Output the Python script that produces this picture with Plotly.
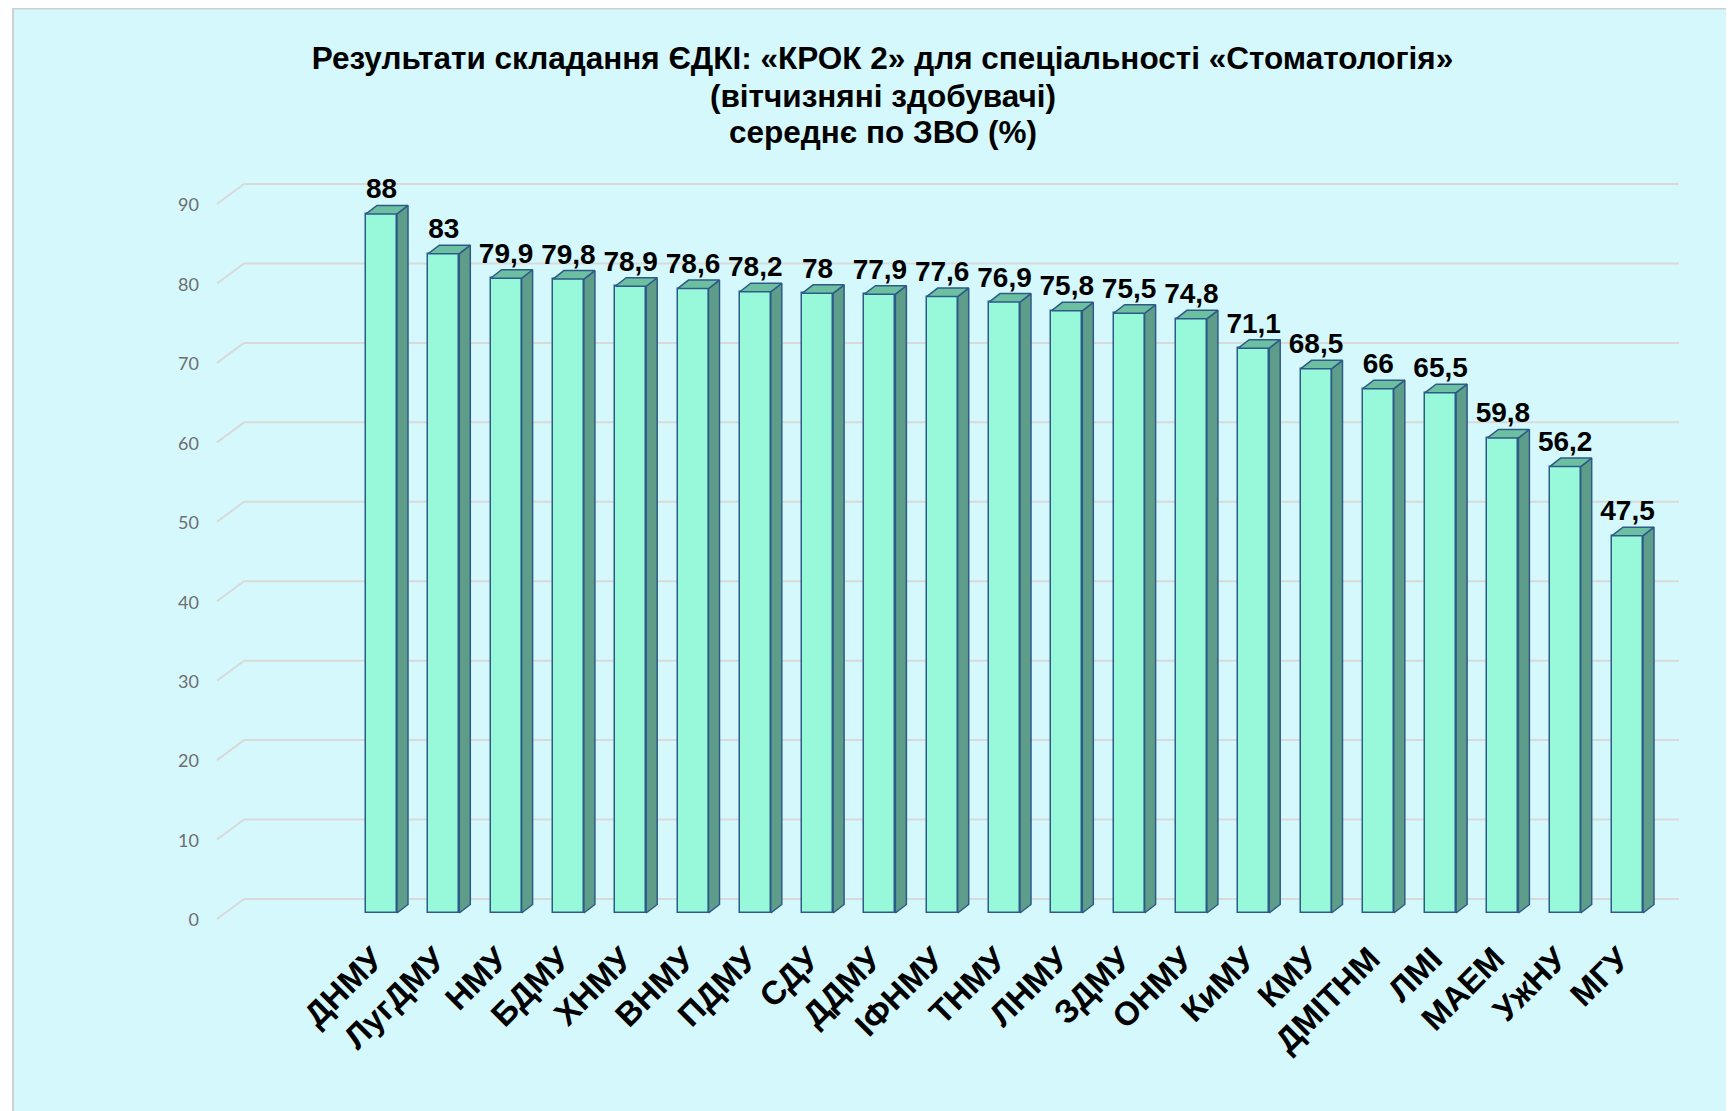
import plotly.graph_objects as go

# ---------------- data ----------------
categories = ["ДНМУ", "ЛугДМУ", "НМУ", "БДМУ", "ХНМУ", "ВНМУ", "ПДМУ", "СДУ", "ДДМУ",
              "ІФНМУ", "ТНМУ", "ЛНМУ", "ЗДМУ", "ОНМУ", "КиМУ", "КМУ", "ДМІТНМ",
              "ЛМІ", "МАЕМ", "УжНУ", "МГУ"]
values = [88, 83, 79.9, 79.8, 78.9, 78.6, 78.2, 78, 77.9, 77.6, 76.9, 75.8, 75.5,
          74.8, 71.1, 68.5, 66, 65.5, 59.8, 56.2, 47.5]
y_ticks = [0, 10, 20, 30, 40, 50, 60, 70, 80, 90]
title_lines = ["Результати складання ЄДКІ: «КРОК 2» для спеціальності «Стоматологія»",
               "(вітчизняні здобувачі)",
               "середнє по ЗВО (%)"]

# ---------------- layout geometry (figure pixels; page has 8px body margin) ----
W, H = 1726, 1103
ML, MR, MT, MB = 197, 26, 142, 176
PW, PH = W - ML - MR, H - MT - MB
PX_CAT = 62.3           # pixels per category
FIRST_CX = 373.5        # pixel of first bar centre
PX_VAL = 7.944          # pixels per value unit
ZERO_PY = 905           # pixel of value 0 (front)

x0 = -(FIRST_CX - ML) / PX_CAT
x1 = x0 + PW / PX_CAT
y1 = (ZERO_PY - MT) / PX_VAL
y0 = (ZERO_PY - (H - MB)) / PX_VAL

def px2x(px):
    return x0 + (px - ML) / PX_CAT

def dpx2v(d):
    return d / PX_VAL

BAR_W = 31 / PX_CAT
DX = 11 / PX_CAT
DY = dpx2v(8.5)
LABEL_SHIFT = 8 / PX_CAT

FRONT = "#98F9DA"
SIDE = "#5E9D89"
TOP = "#6DBFA2"
EDGE = "#2D5B88"
BG = "#D5F8FC"
GRID = "#D9D9D9"
FONT = "Liberation Sans, Arial"

xs = list(range(len(categories)))

fig = go.Figure()

# front faces
fig.add_trace(go.Bar(x=xs, y=values, width=BAR_W,
                     marker=dict(color=FRONT, line=dict(color=EDGE, width=1.5)),
                     hoverinfo="skip", showlegend=False))

# side faces and top faces
sx, sy, tx, ty = [], [], [], []
for i, v in zip(xs, values):
    xl, xr = i - BAR_W / 2, i + BAR_W / 2
    sx += [xr, xr + DX, xr + DX, xr, xr, None]
    sy += [0, DY, v + DY, v, 0, None]
    tx += [xl, xr, xr + DX, xl + DX, xl, None]
    ty += [v, v, v + DY, v + DY, v, None]

fig.add_trace(go.Scatter(x=sx, y=sy, mode="lines", fill="toself", fillcolor=SIDE,
                         line=dict(color=EDGE, width=1.5), hoverinfo="skip",
                         showlegend=False))
fig.add_trace(go.Scatter(x=tx, y=ty, mode="lines", fill="toself", fillcolor=TOP,
                         line=dict(color=EDGE, width=1.5), hoverinfo="skip",
                         showlegend=False))

# data labels
labels = [str(v).replace(".", ",") for v in values]
fig.add_trace(go.Scatter(x=xs, y=[v + DY for v in values],
                         mode="text", text=labels, textposition="top center",
                         textfont=dict(family=FONT, size=28, color="black",
                                       weight="bold"),
                         hoverinfo="skip", showlegend=False))

# gridlines on back wall with left-wall diagonal
shapes = []
BACK_DV = dpx2v(14)
gx_left = px2x(236)
gx_right = px2x(1671)
gx_diag = px2x(209)
for t in y_ticks:
    yb = t + BACK_DV
    shapes.append(dict(type="line", xref="x", yref="y", x0=gx_left, x1=gx_right,
                       y0=yb, y1=yb, line=dict(color=GRID, width=2), layer="below"))
    shapes.append(dict(type="line", xref="x", yref="y", x0=gx_diag, x1=gx_left,
                       y0=yb - dpx2v(20), y1=yb, line=dict(color=GRID, width=2),
                       layer="below"))

# white margin + border at top-left (frame of chart area)
def ppx(px):
    return (px - ML) / PW

def ppy(py):
    return ((H - MB) - py) / PH

shapes.append(dict(type="rect", xref="paper", yref="paper", x0=ppx(-5), x1=ppx(4),
                   y0=ppy(H + 5), y1=ppy(-5), fillcolor="white", line=dict(width=0),
                   layer="above"))
shapes.append(dict(type="line", xref="paper", yref="paper", x0=ppx(5), x1=ppx(5),
                   y0=ppy(H + 5), y1=ppy(0), line=dict(color="#D0D0D0", width=2),
                   layer="above"))
shapes.append(dict(type="line", xref="paper", yref="paper", x0=ppx(5), x1=ppx(W + 5),
                   y0=ppy(0.5), y1=ppy(0.5), line=dict(color="#D0D0D0", width=2),
                   layer="above"))

# title: first line as layout title, next lines as annotations (tighter spacing)
TITLE_CX = 874.5
title_centers = [49.5, 88, 123.6]
annotations = []
for line, cy in zip(title_lines[1:], title_centers[1:]):
    annotations.append(dict(text=line, xref="paper", yref="paper",
                            x=ppx(TITLE_CX), y=ppy(cy), xanchor="center",
                            yanchor="middle", showarrow=False,
                            font=dict(family=FONT, size=31.5, color="black",
                                      weight="bold")))

fig.update_layout(
    width=W, height=H,
    margin=dict(l=ML, r=MR, t=MT, b=MB),
    paper_bgcolor=BG, plot_bgcolor="rgba(0,0,0,0)",
    shapes=shapes,
    annotations=annotations,
    title=dict(text=title_lines[0], x=TITLE_CX / W, xanchor="center",
               y=1 - title_centers[0] / H, yanchor="middle", yref="container",
               font=dict(family=FONT, size=31.5, color="black", weight="bold")),
    xaxis=dict(range=[x0, x1], tickmode="array",
               tickvals=[i - LABEL_SHIFT for i in xs], ticktext=categories,
               tickangle=-45, showgrid=False, zeroline=False, showline=False,
               ticks="", ticklabelstandoff=-3,
               tickfont=dict(family=FONT, size=33, color="black", weight="bold")),
    yaxis=dict(range=[y0, y1], tickmode="array",
               tickvals=[t - dpx2v(7) for t in y_ticks],
               ticktext=[str(t) for t in y_ticks],
               showgrid=False, zeroline=False, showline=False, ticks="",
               ticklabelstandoff=5,
               tickfont=dict(family="Lato, Open Sans", size=18, color="#6E6E6E")),
    bargap=0,
)

fig.write_html("out.html")
